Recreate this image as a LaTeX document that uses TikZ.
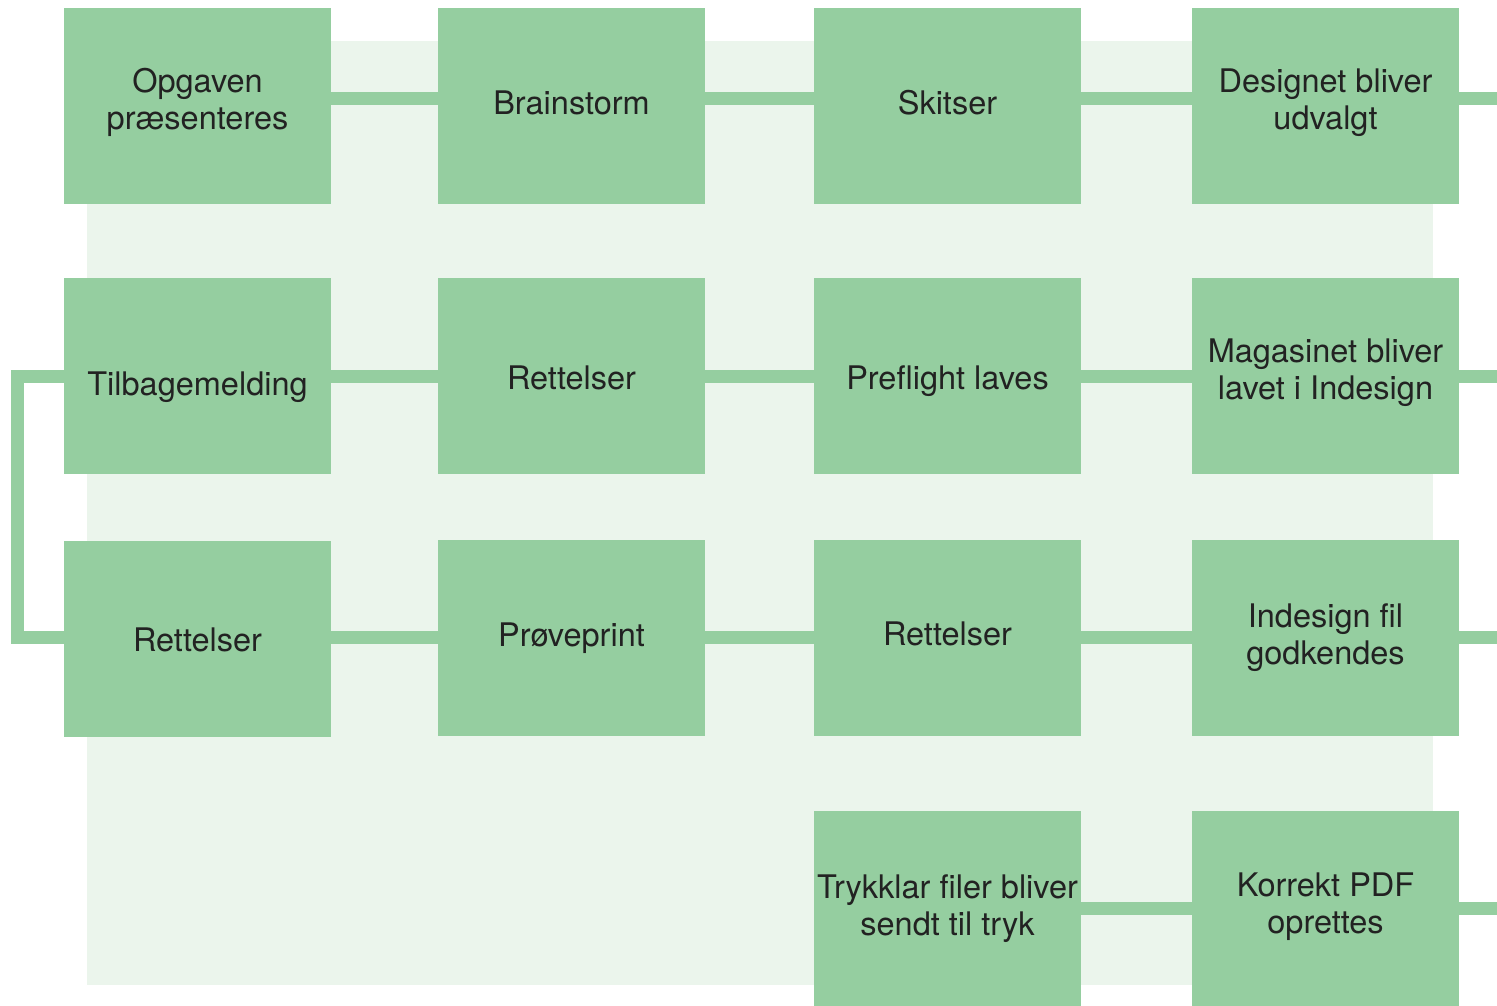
\documentclass[tikz,border=0pt]{standalone}
\usepackage{fontspec}
\setmainfont{TeX Gyre Heros}
\usetikzlibrary{backgrounds}
\definecolor{boxgreen}{HTML}{95CEA0}
\definecolor{bglight}{HTML}{EBF5EC}
\definecolor{txt}{HTML}{222222}
\newcommand{\lift}[2]{\raisebox{#1}[\height][\depth]{#2}}
\newcommand{\twolines}[2]{\begin{tabular}{@{}c@{}}#1\\#2\end{tabular}}
\begin{document}
\begin{tikzpicture}[x=1pt,y=-1pt,
  stepbox/.style={rectangle, fill=boxgreen, draw=none, minimum width=267pt, minimum height=196pt,
    inner sep=0pt, align=center, text=txt, font=\fontsize{32.5}{37}\selectfont},
  link/.style={draw=boxgreen, line width=13pt, line join=miter, line cap=butt}]
\useasboundingbox (0,0) rectangle (1497,1005);
% rows / columns for connectors
\coordinate (r1) at (0,98.5);
\coordinate (r2) at (0,376);
\coordinate (r3) at (0,637);
\coordinate (r4) at (0,908.5);
\coordinate (xl) at (17.5,0);
\coordinate (xr) at (1503,0);
% boxes
\node[stepbox] (a1) at (197.5,106) {\lift{2.5pt}{\twolines{Opgaven}{præsenteres}}};
\node[stepbox] (a2) at (571.5,106) {\lift{3pt}{Brainstorm}};
\node[stepbox] (a3) at (947.5,106) {\lift{3pt}{Skitser}};
\node[stepbox] (a4) at (1325.5,106) {\lift{2.5pt}{\twolines{Designet bliver}{udvalgt}}};
\node[stepbox] (b1) at (197.5,376) {\lift{-11pt}{Tilbagemelding}};
\node[stepbox] (b2) at (571.5,376) {\lift{-2pt}{Rettelser}};
\node[stepbox] (b3) at (947.5,376) {\lift{-5pt}{Preflight laves}};
\node[stepbox] (b4) at (1325.5,376) {\lift{2pt}{\twolines{Magasinet bliver}{lavet i Indesign}}};
\node[stepbox] (c1) at (197.5,639) {\lift{-1pt}{Rettelser}};
\node[stepbox] (c2) at (571.5,638) {Prøveprint};
\node[stepbox] (c3) at (947.5,638) {\lift{4pt}{Rettelser}};
\node[stepbox] (c4) at (1325.5,638) {\lift{-1pt}{\twolines{Indesign fil}{godkendes}}};
\node[stepbox] (d3) at (947.5,909) {\lift{-1pt}{\twolines{Trykklar filer bliver}{sendt til tryk}}};
\node[stepbox] (d4) at (1325.5,909) {\lift{1pt}{\twolines{Korrekt PDF}{oprettes}}};
% background and connectors behind boxes
\begin{pgfonlayer}{background}
\fill[bglight] (87,41) rectangle (1433,985);
\draw[link] (a1.east |- r1) -- (a2.west |- r1);
\draw[link] (a2.east |- r1) -- (a3.west |- r1);
\draw[link] (a3.east |- r1) -- (a4.west |- r1);
\draw[link] (a4.east |- r1) -- (xr |- r1) -- (xr |- r2) -- (b4.east |- r2);
\draw[link] (b4.west |- r2) -- (b3.east |- r2);
\draw[link] (b3.west |- r2) -- (b2.east |- r2);
\draw[link] (b2.west |- r2) -- (b1.east |- r2);
\draw[link] (b1.west |- r2) -- (xl |- r2) -- (xl |- r3) -- (c1.west |- r3);
\draw[link] (c1.east |- r3) -- (c2.west |- r3);
\draw[link] (c2.east |- r3) -- (c3.west |- r3);
\draw[link] (c3.east |- r3) -- (c4.west |- r3);
\draw[link] (c4.east |- r3) -- (xr |- r3) -- (xr |- r4) -- (d4.east |- r4);
\draw[link] (d4.west |- r4) -- (d3.east |- r4);
\end{pgfonlayer}
\end{tikzpicture}
\end{document}
